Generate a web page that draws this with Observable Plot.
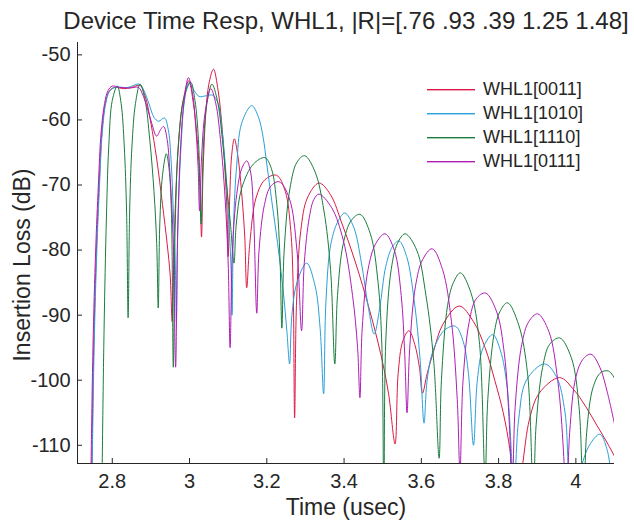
<!DOCTYPE html>
<html><head><meta charset="utf-8">
<script src="https://cdn.jsdelivr.net/npm/d3@7"></script>
<script src="https://cdn.jsdelivr.net/npm/@observablehq/plot@0.6"></script>
<style>
body{margin:0;background:#fff;}
#wrap{position:relative;width:634px;height:525px;font-family:"Liberation Sans",Arial,sans-serif;color:#262626;}
#legend{position:absolute;left:0;top:0;}
.lg{position:absolute;height:20px;display:flex;align-items:center;font-size:18px;white-space:nowrap;}
.lg svg{margin-right:8px;display:block;}
</style></head><body><div id="wrap"></div>
<script>
const FONT = '"Liberation Sans", Arial, sans-serif';
const chartTitle = "Device Time Resp, WHL1, |R|=[.76 .93 .39 1.25 1.48]";
const xLabel = "Time (usec)";
const yLabel = "Insertion Loss (dB)";
const seriesNames = ["WHL1[0011]", "WHL1[1010]", "WHL1[1110]", "WHL1[0111]"];
const seriesColors = ["#dc1a46", "#2a9fd8", "#1a7d3e", "#b01eb4"];
const xDomain = [2.71, 4.1];
const yDomain = [-112.8, -48.1];
const xTicks = [2.8, 3, 3.2, 3.4, 3.6, 3.8, 4];
const yTicks = [-110, -100, -90, -80, -70, -60, -50];

// [time (usec), insertion loss (dB)]
const whl0011 = [[2.746,-118],[2.752,-95],[2.759,-80],[2.766,-70],[2.773,-62],[2.782,-57.5],[2.792,-55.6],[2.805,-55.0],[2.83,-55.2],[2.85,-55.0],[2.872,-54.7],[2.886,-56.5],[2.900,-60.5],[2.915,-66],[2.930,-73],[2.942,-79],[2.950,-84],[2.955,-91],
[2.961,-77],[2.970,-65],[2.982,-57.5],[2.998,-54.0],[3.010,-57.5],[3.020,-63],[3.027,-70],[3.031,-78],
[3.035,-68],[3.042,-59],[3.050,-54.5],[3.062,-52.2],[3.074,-55.5],[3.084,-61],[3.092,-68],[3.097,-74],[3.100,-81],
[3.104,-72],[3.109,-65.5],[3.116,-62.9],[3.125,-65.5],[3.136,-72],[3.143,-78],[3.148,-85.8],
[3.156,-79],[3.172,-72],[3.195,-69.2],[3.225,-68.5],[3.248,-71],[3.262,-77],[3.268,-85],[3.272,-105.8],
[3.277,-88],[3.288,-77],[3.305,-72],[3.335,-69.7],[3.365,-71.5],[3.395,-76],[3.43,-82],[3.465,-89],[3.495,-96],[3.515,-102],[3.532,-109.8],
[3.540,-99],[3.552,-94],[3.568,-92.4],[3.583,-94.5],[3.595,-98],[3.603,-102],
[3.615,-99],[3.632,-95.5],[3.655,-91.5],[3.698,-88.6],[3.735,-91],[3.765,-95],[3.79,-100],[3.812,-105],[3.830,-111],[3.845,-120],
[3.862,-113],[3.880,-106],[3.905,-102],[3.958,-99.6],[3.995,-101.5],[4.025,-104],[4.055,-107],[4.080,-109.5],[4.101,-111.8]];

const whl1010 = [[2.747,-118],[2.753,-95],[2.760,-80],[2.767,-70],[2.774,-62],[2.783,-57.5],[2.793,-55.6],[2.808,-55.0],[2.84,-55.0],[2.870,-54.5],[2.882,-55.5],[2.895,-57.5],[2.908,-59.6],[2.920,-60.2],[2.935,-59.7],[2.945,-61.5],[2.952,-66],[2.958,-74],[2.963,-82],[2.966,-91],
[2.970,-76],[2.978,-64],[2.987,-57],[2.998,-54.3],[3.012,-55.5],[3.025,-56.4],[3.042,-56.3],[3.060,-56.2],[3.074,-57.5],[3.084,-61.5],[3.094,-68],[3.102,-76],[3.107,-82],[3.110,-90],
[3.114,-76],[3.122,-67],[3.135,-60.5],[3.161,-57.8],[3.178,-59.5],[3.190,-62.5],[3.200,-66.8],[3.213,-72.5],[3.228,-79],[3.242,-86],[3.252,-92.5],[3.259,-97.5],
[3.265,-90],[3.278,-85],[3.303,-82],[3.325,-85.5],[3.338,-92],[3.347,-102.1],
[3.353,-88],[3.366,-79],[3.385,-75.5],[3.402,-74.3],[3.425,-76.5],[3.445,-82],[3.462,-88.5],[3.478,-92.9],[3.492,-89],[3.508,-82.5],[3.525,-79.5],[3.542,-78.6],[3.562,-81],[3.582,-88],[3.597,-97],[3.607,-106.6],
[3.615,-100],[3.630,-95.5],[3.660,-92.3],[3.688,-91.7],[3.708,-94],[3.722,-99],[3.735,-110],
[3.745,-100],[3.760,-95],[3.785,-93],[3.805,-95.5],[3.822,-101],[3.840,-116],
[3.852,-106],[3.872,-100],[3.919,-97.5],[3.950,-99.5],[3.972,-105],[3.988,-118],
[4.010,-114],[4.035,-110],[4.062,-108.3],[4.080,-110.5],[4.095,-116]];

const whl1110 = [[2.773,-118],[2.778,-95],[2.784,-77],[2.791,-64],[2.800,-57],[2.813,-54.8],[2.823,-57.5],[2.831,-64],[2.837,-74],[2.841,-90.4],
[2.845,-74],[2.851,-64],[2.860,-57.5],[2.872,-54.5],[2.885,-57],[2.897,-63],[2.908,-71],[2.915,-79],[2.919,-88.9],
[2.923,-76],[2.930,-68.5],[2.940,-65.2],[2.947,-67.5],[2.953,-74],[2.958,-98],
[2.963,-76],[2.972,-63],[2.986,-56.5],[3.003,-54.2],[3.014,-57],[3.023,-63],[3.030,-76],
[3.036,-64],[3.045,-57.5],[3.058,-54.5],[3.072,-57],[3.085,-63],[3.096,-70],[3.106,-76],[3.115,-82],
[3.121,-76],[3.135,-70.5],[3.165,-66.8],[3.195,-65.8],[3.212,-67.5],[3.226,-73],[3.234,-81],[3.239,-92],
[3.245,-80],[3.260,-70.5],[3.278,-66.5],[3.298,-65.5],[3.325,-68],[3.348,-74],[3.365,-83],[3.376,-97.5],
[3.383,-87],[3.398,-79],[3.418,-75.5],[3.441,-74.5],[3.468,-77.5],[3.488,-85],[3.498,-95],[3.503,-125],
[3.508,-94],[3.522,-83],[3.538,-79],[3.558,-77.5],[3.588,-80],[3.612,-87],[3.632,-97],[3.646,-112],
[3.652,-100],[3.668,-88.5],[3.683,-85],[3.701,-83.5],[3.728,-86.5],[3.750,-94],[3.765,-115],
[3.772,-103],[3.788,-93],[3.803,-89.5],[3.823,-88.1],[3.852,-91.5],[3.875,-99],[3.890,-118],
[3.897,-107],[3.914,-98],[3.932,-94.5],[3.958,-93.5],[3.988,-96.5],[4.008,-104],[4.020,-120],
[4.028,-108],[4.045,-101],[4.065,-98.8],[4.085,-98.6],[4.101,-99.8]];

const whl0111 = [[2.744,-118],[2.750,-95],[2.757,-80],[2.764,-70],[2.771,-62],[2.780,-57.5],[2.789,-55.5],[2.800,-54.8],[2.820,-55.0],[2.845,-55.1],[2.868,-55.0],[2.878,-56],[2.890,-58],[2.902,-60.5],[2.915,-62.5],[2.925,-61.5],[2.933,-61.0],[2.942,-63],[2.950,-69],[2.958,-79],[2.964,-98],
[2.969,-78],[2.977,-64],[2.986,-57],[2.997,-53.5],[3.008,-56],[3.016,-61],[3.022,-67],[3.026,-74],
[3.031,-66],[3.040,-59],[3.055,-55.2],[3.068,-57.5],[3.080,-63],[3.092,-72],[3.100,-82],[3.105,-95],
[3.111,-80],[3.122,-71.5],[3.135,-67.5],[3.148,-66.3],[3.158,-68],[3.166,-75],[3.174,-89.7],
[3.180,-80],[3.194,-73],[3.210,-70.2],[3.232,-69.5],[3.258,-72],[3.278,-80],[3.290,-92.4],
[3.297,-82],[3.310,-75],[3.322,-72.2],[3.335,-71.4],[3.368,-73.5],[3.398,-78.5],[3.422,-87],[3.435,-95],[3.441,-102.7],
[3.447,-92],[3.462,-83],[3.482,-79],[3.506,-77.5],[3.530,-80],[3.548,-87],[3.557,-96],[3.563,-105],
[3.570,-95],[3.585,-85.5],[3.603,-81.5],[3.628,-79.8],[3.655,-83],[3.678,-91],[3.693,-103],[3.700,-114],
[3.708,-100],[3.724,-91],[3.742,-87.5],[3.766,-86.6],[3.795,-89.5],[3.815,-96],[3.828,-107],[3.835,-118],
[3.843,-104],[3.860,-94.5],[3.878,-91],[3.901,-89.8],[3.930,-92.5],[3.953,-100],[3.968,-111],[3.975,-122],
[3.984,-108],[4.000,-99.5],[4.018,-96.8],[4.039,-96],[4.062,-98],[4.082,-102],[4.101,-107]];

const allSeries = [whl0011, whl1010, whl1110, whl0111];
const rows = [];
allSeries.forEach((s, i) => s.forEach(([t, db]) => rows.push({t, db, series: seriesNames[i]})));

const W = 634, H = 525, mT = 42, mB = 62, mL = 77, mR = 20;
const axisColor = "#262626";

const plot = Plot.plot({
  width: W, height: H,
  marginTop: mT, marginBottom: mB, marginLeft: mL, marginRight: mR,
  style: {fontFamily: FONT, fontSize: "20px", color: axisColor, background: "white"},
  x: {domain: xDomain, ticks: xTicks, tickFormat: d => String(d), tickSize: 0, tickPadding: 10, label: null},
  y: {domain: yDomain, ticks: yTicks, tickFormat: d => String(d), tickSize: 0, tickPadding: 7, label: null},
  color: {domain: seriesNames, range: seriesColors},
  marks: [
    Plot.line(rows, {x: "t", y: "db", z: "series", stroke: "series", strokeWidth: 1, curve: "catmull-rom", clip: true}),
    Plot.ruleX([xDomain[0]], {stroke: axisColor}),
    Plot.ruleY([yDomain[0]], {stroke: axisColor}),
    Plot.tickX(xTicks, {x: d => d, insetTop: (H - mT - mB) - 5, stroke: axisColor}),
    Plot.tickY(yTicks, {y: d => d, insetRight: (W - mL - mR) - 5, stroke: axisColor}),
    Plot.text([chartTitle], {text: d => d, frameAnchor: "top", dy: -31, fontSize: 24, fill: axisColor}),
    Plot.text([xLabel], {text: d => d, frameAnchor: "bottom", dy: 51, fontSize: 23, fill: axisColor}),
    Plot.text([yLabel], {text: d => d, frameAnchor: "left", textAnchor: "middle", rotate: -90, dx: -55, dy: 12, fontSize: 23, fill: axisColor})
  ]
});
const wrap = document.getElementById("wrap");
wrap.appendChild(plot);

// legend overlay
const legendRowsY = [89, 113, 137, 161];
const lg = d3.select(wrap).append("div").attr("id", "legend");
seriesNames.forEach((name, i) => {
  const row = lg.append("div").attr("class", "lg").style("left", "427px").style("top", (legendRowsY[i] - 10) + "px");
  const sw = row.append("svg").attr("width", 48).attr("height", 20);
  sw.append("rect").attr("x", 0).attr("y", 10).attr("width", 48).attr("height", 1.4)
    .style("fill", seriesColors[i]);
  row.append("span").text(name);
});
</script></body></html>
